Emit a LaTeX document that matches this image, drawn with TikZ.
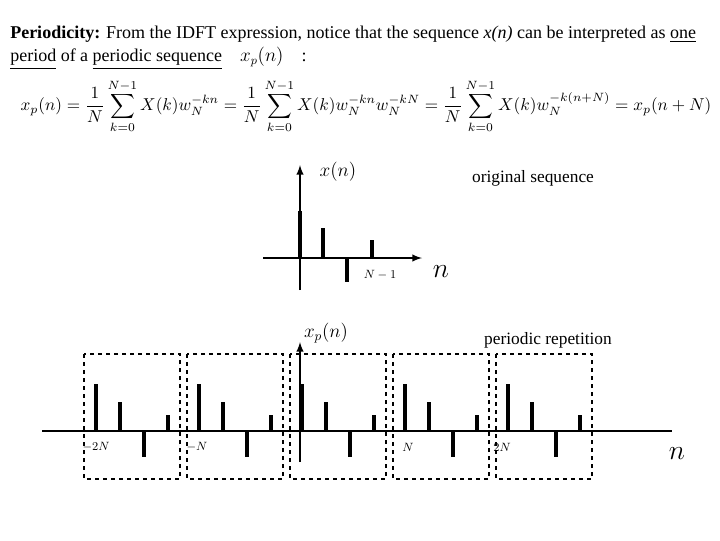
\documentclass[tikz,border=0pt]{standalone}
\usepackage{amsmath}
\usepackage{fontspec}
\setmainfont{Liberation Serif}
\usepackage{graphicx}
\begin{document}
\begin{tikzpicture}[x=0.75pt,y=-0.75pt,
  stem/.style={line width=3pt},
  ax/.style={line width=1.5pt,-latex},
  box/.style={dashed,line width=1.4pt},
  txt/.style={font=\fontsize{12}{14}\selectfont,inner sep=0pt}]
\useasboundingbox (0,0) rectangle (720,540);
\node[txt,anchor=west,font=\fontsize{13.5}{15}\selectfont] (t1) at (10,34) {\textbf{Periodicity:} From the IDFT expression, notice that the sequence \textit{x(n)} can be interpreted as \underline{one}};
\node[txt,anchor=west,font=\fontsize{13.5}{15}\selectfont] (t2) at (10,58) {\underline{period} of a \underline{periodic sequence}\quad $x_p(n)$\quad :};
\node[inner sep=0pt] (eq2) at (366,106) {\resizebox{518pt}{!}{$x_p(n)=\dfrac{1}{N}\displaystyle\sum_{k=0}^{N-1}X(k)w_N^{-kn}=\dfrac{1}{N}\sum_{k=0}^{N-1}X(k)w_N^{-kn}w_N^{-kN}=\dfrac{1}{N}\sum_{k=0}^{N-1}X(k)w_N^{-k(n+N)}=x_p(n+N)$}};
% top graph
\coordinate (hl) at (263,258); \coordinate (hr) at (422,258);
\coordinate (vb) at (300,290); \coordinate (vt) at (300,165);
\draw[ax] (hl) -- (hr);
\draw[ax] (vb) -- (vt);
\draw[stem] (300,258) -- (300,211);
\draw[stem] (323,258) -- (323,228);
\draw[stem] (347,258) -- (347,282);
\draw[stem] (372,258) -- (372,240);
\node[txt,font=\fontsize{14}{16}\selectfont] (xn) at (338,172) {$x(n)$};
\node[txt,font=\fontsize{9}{10}\selectfont] (nm1) at (380,275) {$N-1$};
\node[txt,font=\fontsize{22}{24}\selectfont] (n1) at (441,272) {$n$};
\node[txt,font=\fontsize{13}{15}\selectfont] (orig) at (533,178) {original sequence};
% bottom graph
\draw[line width=1.5pt] (42,431) -- (672,431);
\draw[ax] (300,462) -- (300,342);
\foreach \b in {84,187,290,393,496}{
  \draw[box] (\b,354) rectangle (\b+96,479);
  \draw[stem] (\b+12,431) -- (\b+12,384);
  \draw[stem] (\b+36,431) -- (\b+36,402);
  \draw[stem] (\b+60,431) -- (\b+60,457);
  \draw[stem] (\b+84,431) -- (\b+84,415);
}
\node[txt,font=\fontsize{14}{16}\selectfont] (xpn) at (326,333) {$x_p(n)$};
\node[txt,font=\fontsize{13}{15}\selectfont] (per) at (548,340) {periodic repetition};
\node[txt,font=\fontsize{9}{10}\selectfont] (m2n) at (96,447) {$-2N$};
\node[txt,font=\fontsize{9}{10}\selectfont] (m1n) at (197,447) {$-N$};
\node[txt,font=\fontsize{9}{10}\selectfont] (p1n) at (408,447) {$N$};
\node[txt,font=\fontsize{9}{10}\selectfont] (p2n) at (502,447) {$2N$};
\node[txt,font=\fontsize{22}{24}\selectfont] (n2) at (677,454) {$n$};
\end{tikzpicture}
\end{document}
